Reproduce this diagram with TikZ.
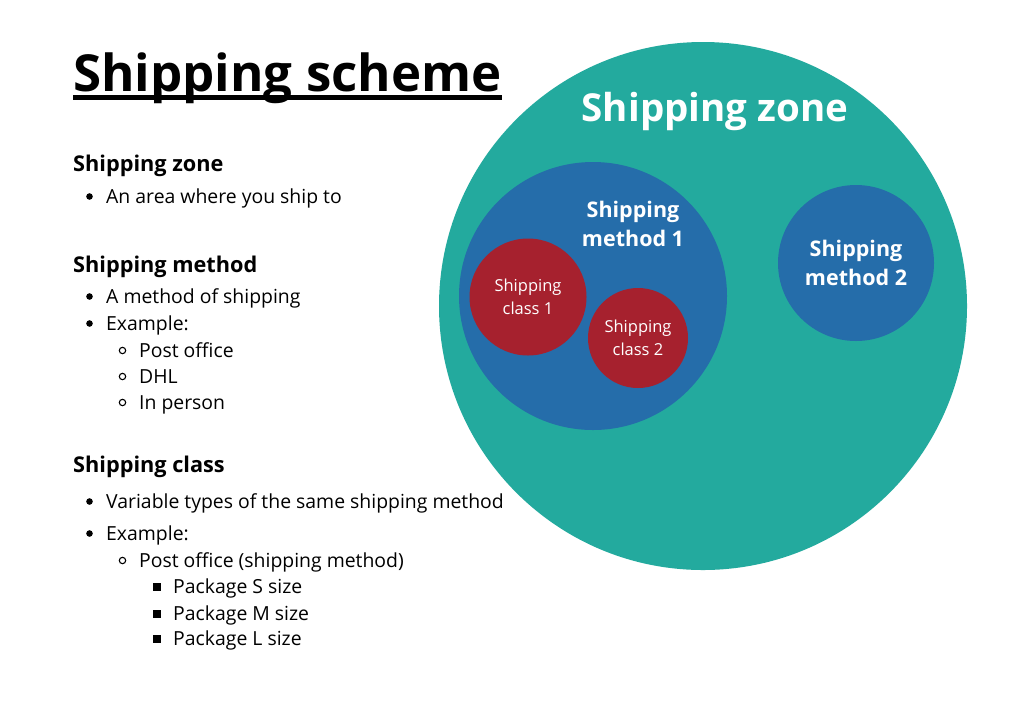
\documentclass[tikz,border=0pt]{standalone}
\usepackage{fontspec}
\setmainfont{Open Sans}
\usepackage{tikz}
\usetikzlibrary{positioning}
\definecolor{zoneteal}{RGB}{35,170,158}
\definecolor{methodblue}{RGB}{37,109,170}
\definecolor{classred}{RGB}{166,33,46}

\begin{document}
\begin{tikzpicture}[x = 1pt, y = -1pt,
  head/.style = {anchor = base west, inner sep = 0pt, font = \fontsize{21.7}{26}\selectfont\bfseries},
  item/.style = {anchor = base west, inner sep = 0pt, font = \fontsize{19.4}{23}\selectfont},
  bubble/.style = {circle, inner sep = 0pt, align = center, text = white},
  dot/.style = {fill = black},
  ring/.style = {draw = black, line width = 1.1pt},
  box/.style = {fill = black}]
\useasboundingbox [fill = white] (0,0) rectangle (1024,724);

\node [head, font = \fontsize{51}{57}\selectfont\bfseries] (title) at (73,91) {Shipping scheme};
\draw [line width = 5pt] ([yshift = -6.5pt]title.base west) -- ([yshift = -6.5pt]title.base east);

\node [head] (zonehead) at (73,171) {Shipping zone};
\node [item] (zoneitem) at (106,203) {An area where you ship to};

\node [head] (methodhead) at (73,272) {Shipping method};
\node [item] (methoditem) at (106,303) {A method of shipping};
\node [item] (methodex) at (106,330) {Example:};
\node [item] (post) at (139,357) {Post office};
\node [item] (dhl) at (139,383) {DHL};
\node [item] (person) at (139,409) {In person};

\node [head] (classhead) at (73,472) {Shipping class};
\node [item] (classitem) at (106,508) {Variable types of the same shipping method};
\node [item] (classex) at (106,540) {Example:};
\node [item] (classpost) at (139,567) {Post office (shipping method)};
\node [item] (sizes) at (173,593) {Package S size};
\node [item] (sizem) at (173,620) {Package M size};
\node [item] (sizel) at (173,645) {Package L size};

\fill [dot] ([xshift = -16.5pt, yshift = 6.5pt]zoneitem.base west) circle (3.3pt);
\fill [dot] ([xshift = -16.5pt, yshift = 6.5pt]methoditem.base west) circle (3.3pt);
\fill [dot] ([xshift = -16.5pt, yshift = 6.5pt]methodex.base west) circle (3.3pt);
\draw [ring] ([xshift = -16.5pt, yshift = 6.5pt]post.base west) circle (3.2pt);
\draw [ring] ([xshift = -16.5pt, yshift = 6.5pt]dhl.base west) circle (3.2pt);
\draw [ring] ([xshift = -16.5pt, yshift = 6.5pt]person.base west) circle (3.2pt);
\fill [dot] ([xshift = -16.5pt, yshift = 6.5pt]classitem.base west) circle (3.3pt);
\fill [dot] ([xshift = -16.5pt, yshift = 6.5pt]classex.base west) circle (3.3pt);
\draw [ring] ([xshift = -16.5pt, yshift = 6.5pt]classpost.base west) circle (3.2pt);
\fill [box] ([xshift = -20pt, yshift = 2.5pt]sizes.base west) rectangle ++(7.5pt,7.5pt);
\fill [box] ([xshift = -20pt, yshift = 2.5pt]sizem.base west) rectangle ++(7.5pt,7.5pt);
\fill [box] ([xshift = -20pt, yshift = 2.5pt]sizel.base west) rectangle ++(7.5pt,7.5pt);

\node [bubble, fill = zoneteal, minimum size = 528pt] (zone) at (703,306) {};
\node [anchor = base, inner sep = 0pt, text = white, font = \fontsize{38.5}{44}\selectfont\bfseries] (zonelabel) at (715,121) {Shipping zone};

\node [bubble, fill = methodblue, minimum size = 268pt] (methodone) at (593,296) {};
\node [anchor = center, align = center, text = white, inner sep = 0pt, font = \fontsize{21.5}{29}\selectfont\bfseries] (methodonelabel) at (633,224) {Shipping\\method 1};
\node [bubble, fill = methodblue, minimum size = 156pt, font = \fontsize{21.5}{29}\selectfont\bfseries] (methodtwo) at (856,263) {Shipping\\method 2};

\node [bubble, fill = classred, minimum size = 117pt, font = \fontsize{16.5}{23}\selectfont] (classone) at (528,297) {Shipping\\class 1};
\node [bubble, fill = classred, minimum size = 100pt, font = \fontsize{16.5}{23}\selectfont] (classtwo) at (638,338) {Shipping\\class 2};
\end{tikzpicture}
\end{document}
